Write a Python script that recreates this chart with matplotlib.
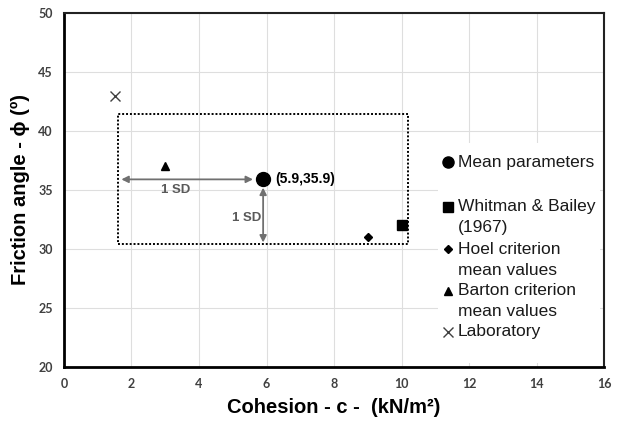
import matplotlib
matplotlib.use("Agg")
import matplotlib.pyplot as plt
from matplotlib.patches import Rectangle

plt.rcParams['font.family'] = ['Liberation Sans', 'DejaVu Sans']

# ---- data ----
series = ["Mean parameters", "Whitman & Bailey\n(1967)", "Hoel criterion\nmean values",
          "Barton criterion\nmean values", "Laboratory"]
cohesion = [5.9, 10.0, 9.0, 3.0, 1.5]
friction = [35.9, 32.0, 31.0, 37.0, 43.0]
markers = ["o", "s", "D", "^", "x"]
msizes = [10, 7, 4.5, 6, 7]
colors = ["black", "black", "black", "black", "#404040"]

mean_c, mean_phi = 5.9, 35.9
sd_c, sd_phi = 4.3, 5.5

xticks = [0, 2, 4, 6, 8, 10, 12, 14, 16]
yticks = [20, 25, 30, 35, 40, 45, 50]

fig = plt.figure(figsize=(6.17, 4.30), dpi=100)
ax = fig.add_axes([0.1037, 0.1465, 0.8753, 0.8233])
ax.set_xlim(0, 16)
ax.set_ylim(20, 50)
ax.set_xticks(xticks)
ax.set_yticks(yticks)
ax.grid(True, color="#dedede", lw=0.8)
ax.set_axisbelow(True)
ax.tick_params(length=0, pad=8)
for lab in ax.get_xticklabels() + ax.get_yticklabels():
    lab.set_family(['Lato', 'DejaVu Sans'])
    lab.set_fontweight('bold')
    lab.set_fontsize(9)
    lab.set_color('#404040')
for s in ['left', 'bottom']:
    ax.spines[s].set_linewidth(2)
    ax.spines[s].set_color('black')
for s in ['top', 'right']:
    ax.spines[s].set_linewidth(1.5)
    ax.spines[s].set_color('#222222')

ax.set_xlabel("Cohesion - c -  (kN/m²)", fontsize=14.5, fontweight='bold', labelpad=6)
ax.set_ylabel("Friction angle - ϕ (º)", fontsize=14.5, fontweight='bold', labelpad=6)

# SD rectangle
rect = Rectangle((mean_c - sd_c, mean_phi - sd_phi), 2 * sd_c, 2 * sd_phi,
                 fill=False, ec='black', lw=1.4, ls=(0, (1, 1)), zorder=3)
ax.add_patch(rect)

# arrows
arr = dict(arrowstyle='<|-|>', color='#707070', lw=1.3, mutation_scale=10, shrinkA=0, shrinkB=0)
ax.annotate("", xy=(mean_c - 0.3, mean_phi), xytext=(mean_c - sd_c + 0.1, mean_phi), arrowprops=arr)
ax.annotate("", xy=(mean_c, mean_phi - sd_phi + 0.15), xytext=(mean_c, mean_phi - 0.7), arrowprops=arr)
ax.text(3.3, 35.0, "1 SD", fontsize=9.5, fontweight='bold', color='#595959', ha='center', va='center')
ax.text(5.4, 32.6, "1 SD", fontsize=9.5, fontweight='bold', color='#595959', ha='center', va='center')
ax.text(mean_c + 0.36, mean_phi, "(5.9,35.9)", fontsize=10, fontweight='bold', color='black',
        ha='left', va='center')

# legend background box (axes coords)
bg = Rectangle((0.693, 0.01), 0.30, 0.623, transform=ax.transAxes, fc='white', ec='none', zorder=2)
ax.add_patch(bg)

# points
for c, p, m, ms, col in zip(cohesion, friction, markers, msizes, colors):
    ax.plot([c], [p], marker=m, ms=ms, color=col, mec=col, mew=1.0, ls='none', zorder=5)

# manual legend
leg_y = [0.579, 0.452, 0.333, 0.215, 0.099]
line_gap = 0.059
leg_ms = [8, 6.5, 4.5, 6, 6.5]
for lab, m, ms, col, yy in zip(series, markers, leg_ms, colors, leg_y):
    ax.plot([0.711], [yy], marker=m, ms=ms, color=col, mec=col, mew=1.0,
            transform=ax.transAxes, clip_on=False, zorder=6, ls='none')
    for i, line in enumerate(lab.split("\n")):
        ax.text(0.729, yy - i * line_gap, line, transform=ax.transAxes, fontsize=12.5,
                color='#1a1a1a', ha='left', va='center', zorder=6)

fig.savefig("out.png", dpi=100)
